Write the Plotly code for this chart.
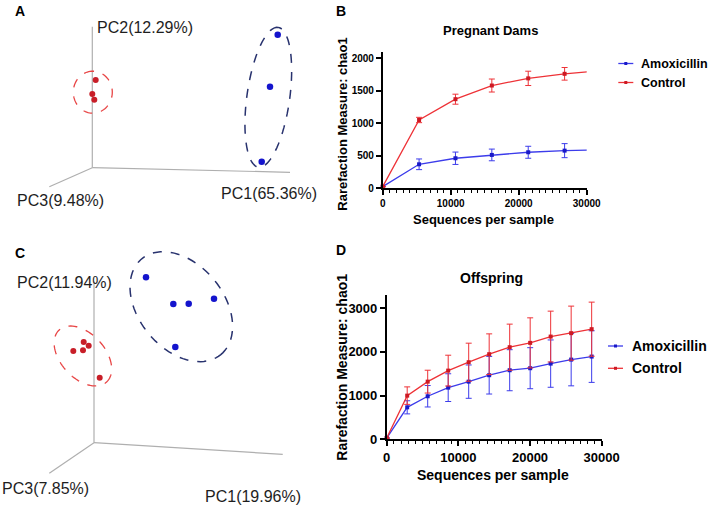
import numpy as np
import plotly.graph_objects as go

W, H = 709, 505
FONT = "Liberation Sans, Arial, sans-serif"

BLUE_LINE = "rgb(60,60,235)"
BLUE_DOT = "rgb(25,25,200)"
RED_LINE = "rgb(238,50,55)"
RED_DOT = "rgb(205,25,35)"
GROUPS = ["Amoxicillin", "Control"]

# --- PCoA, pregnant dams (projected scores, origin at the axis corner)
a_ctrl_x = [3.4, 0.0, 2.0]
a_ctrl_y = [87.7, 73.7, 68.0]
a_amox_x = [185.4, 177.7, 169.4]
a_amox_y = [133.0, 81.0, 6.0]
a_labels = ["PC1(65.36%)", "PC2(12.29%)", "PC3(9.48%)"]
# ellipses: cx, cy, semi-major, semi-minor, angle
a_ctrl_ell = [0.5, 75.5, 21.0, 19.5, 90]
a_amox_ell = [176.0, 70.4, 70.6, 21.4, 82]

# --- PCoA, offspring
c_ctrl_x = [-10.3, -5.3, -20.7, -11.0, 5.7]
c_ctrl_y = [100.7, 97.0, 91.7, 92.4, 65.0]
c_amox_x = [52.0, 79.3, 94.7, 120.0, 81.3]
c_amox_y = [165.4, 138.7, 139.0, 144.0, 95.7]
c_labels = ["PC1(19.96%)", "PC2(11.94%)", "PC3(7.85%)"]
c_ctrl_ell = [-11.1, 86.7, 35.2, 22.1, -47.7]
c_amox_ell = [87.3, 136.0, 62.1, 42.4, -50.5]

# --- rarefaction, pregnant dams (last point lies past the axis end)
b_seq = [0, 5350, 10700, 16050, 21400, 26750, 32100]
b_amox = [25, 369, 462, 513, 554, 579, 590]
b_amox_err = [0, 82, 95, 90, 92, 108, 100]
b_ctrl = [25, 1050, 1370, 1580, 1690, 1760, 1810]
b_ctrl_err = [0, 41, 77, 100, 110, 97, 95]

# --- rarefaction, offspring
d_seq = [0, 2860, 5720, 8580, 11440, 14300, 17160, 20020, 22880, 25740, 28600]
d_amox = [30, 733, 986, 1183, 1320, 1467, 1581, 1627, 1732, 1824, 1893]
d_amox_err = [0, 150, 245, 317, 381, 430, 469, 469, 541, 600, 590]
d_ctrl = [30, 1000, 1320, 1572, 1764, 1947, 2107, 2206, 2350, 2428, 2519]
d_ctrl_err = [0, 200, 261, 352, 435, 465, 527, 572, 581, 618, 618]


def px(x, y):
    return x / W, 1 - y / H


def ellipse_path(cx, cy, a, b, angle, n=90):
    t = np.linspace(0, 2 * np.pi, n)
    th = np.radians(angle)
    xs = cx + a * np.cos(t) * np.cos(th) - b * np.sin(t) * np.sin(th)
    ys = cy + a * np.cos(t) * np.sin(th) + b * np.sin(t) * np.cos(th)
    return "M " + " L ".join(f"{x:.2f},{y:.2f}" for x, y in zip(xs, ys)) + " Z"


fig = go.Figure()
shapes = []
annotations = []


def pcoa_panel(xa, ya, ctrl_x, ctrl_y, amox_x, amox_y, ctrl_ell, amox_ell,
               axis_ends, labels, label_pos):
    xr, yr = xa.replace("axis", ""), ya.replace("axis", "")
    for (ex, ey) in axis_ends:
        shapes.append(dict(type="line", xref=xr, yref=yr, x0=0, y0=0, x1=ex, y1=ey,
                           line=dict(color="rgb(175,175,175)", width=1.2), layer="below"))
    shapes.append(dict(type="path", xref=xr, yref=yr, path=ellipse_path(*ctrl_ell),
                       line=dict(color="rgb(232,70,70)", width=1.3, dash="dash")))
    shapes.append(dict(type="path", xref=xr, yref=yr, path=ellipse_path(*amox_ell),
                       line=dict(color="rgb(40,50,110)", width=1.5, dash="dash")))
    fig.add_trace(go.Scatter(x=ctrl_x, y=ctrl_y, xaxis=xr, yaxis=yr, mode="markers",
                             marker=dict(color="rgb(200,30,40)", size=6), showlegend=False))
    fig.add_trace(go.Scatter(x=amox_x, y=amox_y, xaxis=xr, yaxis=yr, mode="markers",
                             marker=dict(color="rgb(20,20,205)", size=6.5), showlegend=False))
    for text, (lx, ly) in zip(labels, label_pos):
        annotations.append(dict(text=text, x=lx, y=ly, xref=xr, yref=yr, xanchor="left",
                                yanchor="middle", showarrow=False,
                                font=dict(family=FONT, size=16, color="rgb(30,30,30)")))


pcoa_panel("xaxis", "yaxis", a_ctrl_x, a_ctrl_y, a_amox_x, a_amox_y, a_ctrl_ell, a_amox_ell,
           [(197.7, -4.6), (0, 141), (-43, -19)], a_labels,
           [(126.7, -25.3), (2.7, 140.7), (-77.3, -32.3)])
pcoa_panel("xaxis3", "yaxis3", c_ctrl_x, c_ctrl_y, c_amox_x, c_amox_y, c_ctrl_ell, c_amox_ell,
           [(188.7, -11.6), (0, 161.2), (-44.7, -30.6)], c_labels,
           [(109, -54), (-79, 160), (-94, -45.3)])


def rarefaction(xr, yr, seq, series, xmax):
    for name, (vals, errs, lc, mc) in zip(GROUPS, series):
        # line runs through every point, clipped at the axis end
        fig.add_trace(go.Scatter(x=seq, y=vals, xaxis=xr, yaxis=yr, mode="lines",
                                 line=dict(color=lc, width=1.3), showlegend=False))
        keep = [i for i, s in enumerate(seq) if s <= xmax]
        fig.add_trace(go.Scatter(
            x=[seq[i] for i in keep], y=[vals[i] for i in keep], xaxis=xr, yaxis=yr,
            mode="markers", name=name, cliponaxis=False, showlegend=False,
            marker=dict(color=mc, size=4, symbol="square"),
            error_y=dict(type="data", array=[errs[i] for i in keep], color=lc,
                         thickness=1, width=3)))


rarefaction("x2", "y2", b_seq,
            [(b_amox, b_amox_err, BLUE_LINE, BLUE_DOT), (b_ctrl, b_ctrl_err, RED_LINE, RED_DOT)],
            30000)
rarefaction("x4", "y4", d_seq,
            [(d_amox, d_amox_err, BLUE_LINE, BLUE_DOT), (d_ctrl, d_ctrl_err, RED_LINE, RED_DOT)],
            30000)


def legend(x0, ys, size, gap):
    for name, y, lc, mc in zip(GROUPS, ys, [BLUE_LINE, RED_LINE], [BLUE_DOT, RED_DOT]):
        ax0, ay = px(x0, y)
        ax1, _ = px(x0 + 15, y)
        shapes.append(dict(type="line", xref="paper", yref="paper", x0=ax0, x1=ax1, y0=ay, y1=ay,
                           line=dict(color=lc, width=1.3)))
        mx0, my0 = px(x0 + 6, y - 1.5)
        mx1, my1 = px(x0 + 9, y + 1.5)
        shapes.append(dict(type="rect", xref="paper", yref="paper", x0=mx0, x1=mx1, y0=my0, y1=my1,
                           fillcolor=mc, line=dict(width=0)))
        tx, ty = px(x0 + gap, y)
        annotations.append(dict(text=name, x=tx, y=ty, xref="paper", yref="paper",
                                xanchor="left", yanchor="middle", showarrow=False,
                                font=dict(family=FONT, size=size, color="black", weight="bold")))


legend(618.3, [63.5, 82.5], 12.5, 20.5)
legend(608.0, [346, 368.3], 14, 22.4)


def text(t, x, y, size, bold=True, angle=0):
    ax, ay = px(x, y)
    annotations.append(dict(text=t, x=ax, y=ay, xref="paper", yref="paper", showarrow=False,
                            xanchor="center", yanchor="middle", textangle=angle,
                            font=dict(family=FONT, size=size, color="black",
                                      weight="bold" if bold else "normal")))


text("A", 20, 11, 14)
text("B", 341, 11, 14)
text("C", 20, 253, 14)
text("D", 341, 250, 14)
text("Pregnant Dams", 490.5, 30, 13)
text("Offspring", 491.5, 278, 14)
text("Sequences per sample", 483.5, 220, 13)
text("Sequences per sample", 493, 475, 14)
text("Rarefaction Measure: chao1", 341.7, 124, 13, angle=-90)
text("Rarefaction Measure: chao1", 341.7, 367, 14, angle=-90)

hidden = dict(visible=False, showgrid=False, zeroline=False, fixedrange=True, automargin=False)
axis_common = dict(showline=True, linecolor="black", linewidth=1.6, ticks="outside", ticklen=5,
                   tickwidth=1.5, tickcolor="black", showgrid=False, zeroline=False,
                   tickformat="d", automargin=False)
minor = dict(ticks="outside", dtick=1000, ticklen=3, tickwidth=1.2, tickcolor="black")

fig.update_layout(
    width=W, height=H, margin=dict(l=0, r=0, t=0, b=0, autoexpand=False),
    paper_bgcolor="white", plot_bgcolor="rgba(0,0,0,0)", showlegend=False,
    font=dict(family=FONT),
    xaxis=dict(domain=[0, 330 / W], range=[-92.3, 237.7], anchor="y", **hidden),
    yaxis=dict(domain=[1 - 240 / H, 1], range=[-72.3, 167.7], anchor="x", **hidden),
    xaxis3=dict(domain=[0, 330 / W], range=[-94, 236], anchor="y3", **hidden),
    yaxis3=dict(domain=[0, 1 - 240 / H], range=[-62.3, 202.7], anchor="x3", **hidden),
    xaxis2=dict(domain=[382.7 / W, 586.7 / W], range=[0, 30000], dtick=10000, tick0=0,
                minor=minor, anchor="y2",
                tickfont=dict(family=FONT, size=10, color="black", weight="bold"), **axis_common),
    yaxis2=dict(domain=[1 - 188.3 / H, 1 - 51.7 / H], range=[0, 2100], dtick=500, tick0=0,
                anchor="x2",
                tickfont=dict(family=FONT, size=10, color="black", weight="bold"), **axis_common),
    xaxis4=dict(domain=[386.7 / W, 601.7 / W], range=[0, 30000], dtick=10000, tick0=0,
                minor=minor, anchor="y4",
                tickfont=dict(family=FONT, size=13, color="black", weight="bold"), **axis_common),
    yaxis4=dict(domain=[1 - 439.4 / H, 1 - 295 / H], range=[0, 3300], dtick=1000, tick0=0,
                anchor="x4",
                tickfont=dict(family=FONT, size=13, color="black", weight="bold"), **axis_common),
    shapes=shapes,
    annotations=annotations,
)

# the page's default body margin would push the figure 8px off the window
fig.write_html("out.html", post_script="document.body.style.margin = '0';",
               config={"displayModeBar": False})
